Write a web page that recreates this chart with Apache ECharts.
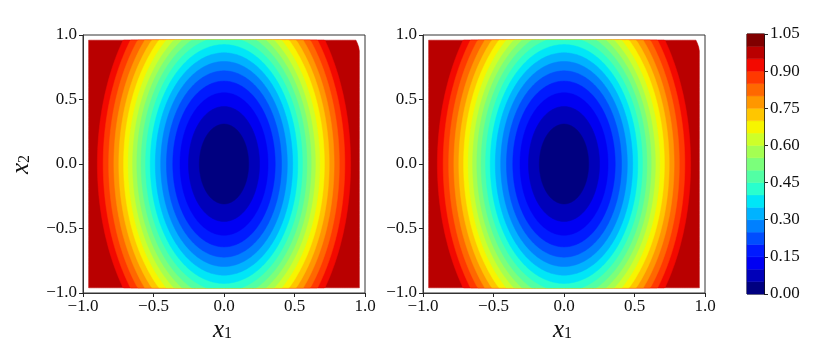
<!DOCTYPE html>
<html>
<head>
<meta charset="utf-8">
<script src="https://cdn.jsdelivr.net/npm/echarts@6/dist/echarts.min.js"></script>
<style>
html, body { margin: 0; padding: 0; background: #fff; }
#chart { width: 830px; height: 346px; }
</style>
</head>
<body>
<div id="chart"></div>
<script>
// contour levels (colour bar bands)
var levels = [0.00, 0.05, 0.10, 0.15, 0.20, 0.25, 0.30, 0.35, 0.40, 0.45, 0.50,
              0.55, 0.60, 0.65, 0.70, 0.75, 0.80, 0.85, 0.90, 0.95, 1.00, 1.05];
// half width along x1 of the contour lines levels[1..20]
var radiusX1 = [0.175, 0.252, 0.312, 0.363, 0.408, 0.449, 0.487, 0.523, 0.556, 0.588,
                0.618, 0.648, 0.679, 0.712, 0.746, 0.781, 0.818, 0.857, 0.898, 1.115];
// contour centres (the outermost line sits a bit off centre, only the top right corner is cut)
var centerX1 = [0, 0, 0, 0, 0, 0, 0, 0, 0, 0, 0, 0, 0, 0, 0, 0, 0, 0, 0, -0.02];
var centerX2 = [0, 0, 0, 0, 0, 0, 0, 0, 0, 0, 0, 0, 0, 0, 0, 0, 0, 0, 0, -0.05];
// ratio of the x2 half height to the x1 half width
var aspect = 1.77;
// sampled domain is [-edge, edge] on both axes
var edge = 0.96;

// jet colormap, one colour per band
var jet = ['#000080', '#0000b9', '#0000f3', '#001aff', '#004dff', '#0080ff', '#00b3ff',
           '#00e6f7', '#29ffce', '#52ffa4', '#7bff7b', '#a4ff52', '#ceff29', '#f7f500',
           '#ffc600', '#ff9700', '#ff6800', '#ff3900', '#f30900', '#b90000', '#800000'];

var font = 'Liberation Serif';

function clamp(v) { return Math.max(-edge, Math.min(edge, v)); }

function fmt1(v) {
    return (v < 0 ? '\u2212' : '') + Math.abs(v).toFixed(1);
}

function contourSeries(gi) {
    var data = [];
    for (var k = radiusX1.length - 1; k >= 0; k--) {
        data.push([centerX1[k], centerX2[k], radiusX1[k], k]);
    }
    return {
        type: 'custom',
        xAxisIndex: gi,
        yAxisIndex: gi,
        clip: false,
        silent: true,
        encode: { x: 0, y: 1 },
        data: data,
        renderItem: function (params, api) {
            var cx = api.value(0), cy = api.value(1), rx = api.value(2), k = api.value(3);
            var ry = rx * aspect;
            var pts = [];
            for (var t = 0; t < 360; t++) {
                var a = t * Math.PI / 180;
                pts.push(api.coord([clamp(cx + rx * Math.cos(a)), clamp(cy + ry * Math.sin(a))]));
            }
            return {
                type: 'polygon',
                shape: { points: pts },
                style: { fill: jet[k], stroke: jet[k], lineWidth: 0.5 }
            };
        }
    };
}

function plotAxis(gi, isX) {
    return {
        type: 'value',
        gridIndex: gi,
        min: -1,
        max: 1,
        interval: 0.5,
        axisLine: { show: true, onZero: false, lineStyle: { color: '#333' } },
        axisTick: { show: true, length: 4, lineStyle: { color: '#222', width: 1 } },
        splitLine: { show: false },
        axisLabel: {
            margin: isX ? 5 : 6,
            color: '#111',
            fontFamily: font,
            fontSize: 17,
            formatter: fmt1
        }
    };
}

function axisTitle(left, top, sub, rotate) {
    var el = {
        type: 'text',
        style: {
            text: '{v|x}{s|' + sub + '}',
            rich: {
                v: { fontFamily: font, fontStyle: 'italic', fontSize: 25, lineHeight: 24, verticalAlign: 'top', fill: '#111' },
                s: { fontFamily: font, fontSize: 16, lineHeight: 14, verticalAlign: 'bottom', fill: '#111' }
            }
        }
    };
    if (rotate) {
        el.x = left; el.y = top; el.rotation = Math.PI / 2;
    } else {
        el.left = left; el.top = top;
    }
    return el;
}

var myChart = echarts.init(document.getElementById('chart'));

var colorbarData = [];
for (var i = 0; i < levels.length - 1; i++) {
    colorbarData.push([0.5, levels[i], i]);
}

option = {
    backgroundColor: '#fff',
    animation: false,
    grid: [
        { left: 83, top: 35, width: 282, height: 258, show: true, borderColor: '#333', borderWidth: 1 },
        { left: 423, top: 35, width: 282, height: 258, show: true, borderColor: '#333', borderWidth: 1 },
        { left: 747, top: 34, width: 17, height: 260, show: true, borderColor: '#111', borderWidth: 1 }
    ],
    xAxis: [
        plotAxis(0, true),
        plotAxis(1, true),
        { type: 'value', gridIndex: 2, min: 0, max: 1, show: false }
    ],
    yAxis: [
        plotAxis(0, false),
        plotAxis(1, false),
        {
            type: 'value',
            gridIndex: 2,
            position: 'right',
            min: 0,
            max: 1.05,
            interval: 0.15,
            axisLine: { show: true, onZero: false, lineStyle: { color: '#111' } },
            axisTick: { show: true, length: 4, lineStyle: { color: '#222', width: 1 } },
            splitLine: { show: false },
            axisLabel: {
                margin: 6,
                color: '#111',
                fontFamily: font,
                fontSize: 17,
                formatter: function (v) { return v.toFixed(2); }
            }
        }
    ],
    series: [
        contourSeries(0),
        contourSeries(1),
        {
            type: 'custom',
            xAxisIndex: 2,
            yAxisIndex: 2,
            silent: true,
            encode: { x: 0, y: 1 },
            data: colorbarData,
            renderItem: function (params, api) {
                var k = api.value(2);
                var p = api.coord([0, levels[k + 1]]);
                var s = api.size([1, levels[k + 1] - levels[k]]);
                return {
                    type: 'rect',
                    shape: { x: p[0], y: p[1], width: s[0], height: s[1] },
                    style: { fill: jet[k], stroke: jet[k], lineWidth: 0.5 }
                };
            }
        }
    ],
    graphic: [
        axisTitle(213, 318, '1', false),
        axisTitle(553, 318, '1', false),
        axisTitle(9, 174, '2', true)
    ]
};

myChart.setOption(option);
window.addEventListener("resize", function () {
    myChart.resize();
});
</script>
</body>
</html>
